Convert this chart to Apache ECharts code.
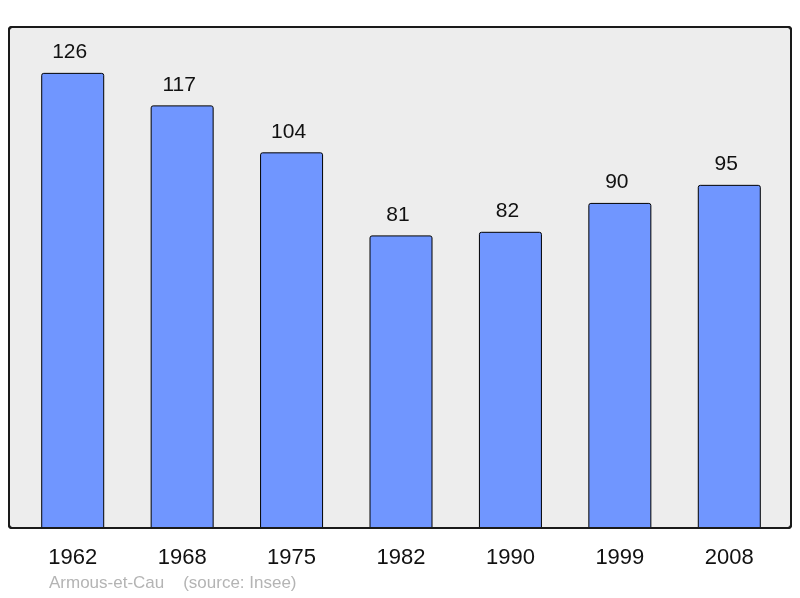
<!DOCTYPE html>
<html>
<head>
<meta charset="utf-8">
<title>Armous-et-Cau</title>
<script src="https://cdn.jsdelivr.net/npm/echarts@6/dist/echarts.min.js"></script>
<style>
  html, body { margin: 0; padding: 0; background: #fff; }
  #main { width: 800px; height: 598px; }
</style>
</head>
<body>
<div id="main"></div>
<script>
// population par recensement
var years = ['1962', '1968', '1975', '1982', '1990', '1999', '2008'];
var population = [126, 117, 104, 81, 82, 90, 95];
var sourceText = 'Armous-et-Cau    (source: Insee)';

var myChart = echarts.init(document.getElementById('main'));

var option = {
    animation: false,
    grid: {
        left: 18,
        width: 766,
        top: 27,
        height: 501
    },
    graphic: [
        {   // cadre gris
            type: 'rect',
            z: -10,
            shape: { x: 9, y: 27, width: 782, height: 501, r: 3 },
            style: { fill: '#ededed', stroke: '#1a1a1a', lineWidth: 2 }
        },
        {
            type: 'rect',
            z: 100,
            silent: true,
            shape: { x: 9, y: 27, width: 782, height: 501, r: 3 },
            style: { fill: 'none', stroke: '#1a1a1a', lineWidth: 2 }
        },
        {
            type: 'text',
            left: 49,
            top: 575,
            style: {
                text: sourceText,
                fontFamily: 'Liberation Sans, Arial, sans-serif',
                fontSize: 17,
                fill: '#b4b4b4'
            }
        }
    ],
    xAxis: {
        type: 'category',
        data: years,
        axisLine: { show: false },
        axisTick: { show: false },
        axisLabel: {
            margin: 19,
            fontSize: 22,
            color: '#111',
            fontFamily: 'Liberation Sans, Arial, sans-serif'
        }
    },
    yAxis: {
        type: 'value',
        min: 0,
        max: 138.7,
        show: false,
        splitLine: { show: false }
    },
    series: [
        {
            type: 'bar',
            data: population,
            barWidth: 63,
            itemStyle: {
                color: '#7096ff',
                borderColor: '#000',
                borderWidth: 1,
                borderRadius: [2, 2, 0, 0]
            },
            label: {
                show: true,
                position: 'top',
                distance: 10,
                offset: [-3, 0],
                fontSize: 21,
                color: '#111',
                fontFamily: 'Liberation Sans, Arial, sans-serif'
            }
        }
    ]
};

myChart.setOption(option);
</script>
</body>
</html>
